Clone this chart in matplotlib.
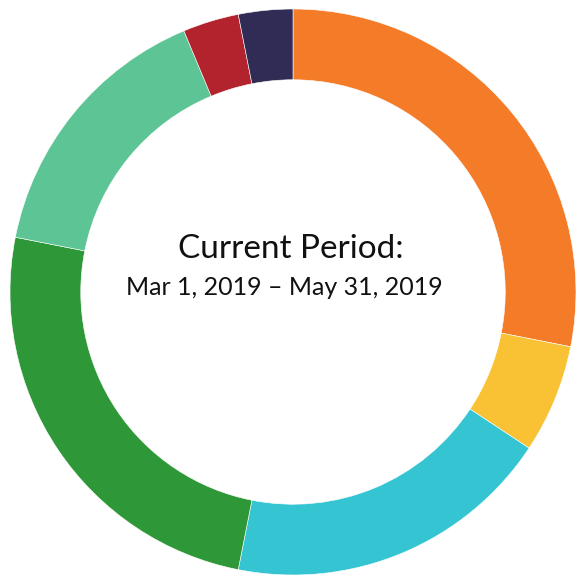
import matplotlib
matplotlib.use('Agg')
import matplotlib.pyplot as plt

# share of each segment (percent), clockwise from 12 o'clock
labels = ['Orange', 'Yellow', 'Cyan', 'Green', 'Light green', 'Red', 'Navy']
values = [28.1, 6.2, 18.8, 25.0, 15.6, 3.2, 3.1]
colors = ['#F47B28', '#F8C234', '#35C5D2', '#2E9737', '#5DC495', '#B2232E', '#302C55']

title_line = "Current Period:"
period_line = "Mar 1, 2019 \u2013 May 31, 2019"

fig = plt.figure(figsize=(5.76, 5.76), dpi=100)
# center of ring at ~ (293, 292) px, outer radius ~283 px
r = 283 / 576
cx, cy = 293 / 576, (576 - 292) / 576
ax = fig.add_axes([cx - r, cy - r, 2 * r, 2 * r])

ax.pie(values, colors=colors, startangle=90, counterclock=False, radius=1.0,
       wedgeprops=dict(width=0.25, edgecolor='white', linewidth=0.4))
ax.set_xlim(-1, 1)
ax.set_ylim(-1, 1)
ax.set_aspect('equal')
ax.axis('off')

ax.text(-0.008, 0.120, title_line, ha='center', va='baseline', fontsize=24,
        family='Lato', color='#111111')
ax.text(-0.03, -0.011, period_line, ha='center', va='baseline', fontsize=18,
        family='Lato', color='#111111')

fig.savefig('out.png', dpi=100, facecolor='white')
